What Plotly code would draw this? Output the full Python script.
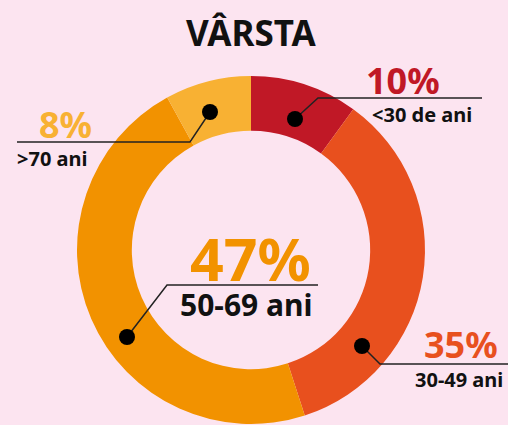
import plotly.graph_objects as go

# ---- data ----
labels = ["<30 de ani", "30-49 ani", "50-69 ani", ">70 ani"]
values = [10, 35, 47, 8]
pct_text = ["10%", "35%", "47%", "8%"]
colors = ["#C01826", "#E8501E", "#F29200", "#F8B133"]
title_text = "VÂRSTA"

W, H = 508, 425
BG = "#FCE4F0"
FONT = "Noto Sans"


def px(x):
    return x / W


def py(y):
    return 1 - y / H


fig = go.Figure(
    go.Pie(
        labels=labels,
        values=values,
        sort=False,
        direction="clockwise",
        rotation=0,
        hole=0.685,
        marker=dict(colors=colors, line=dict(width=0)),
        textinfo="none",
        hoverinfo="label+percent",
        showlegend=False,
        domain=dict(x=[px(77), px(425)], y=[py(424), py(76)]),
    )
)

# callout layout: dot, elbow, line end, pct centre, label centre, sizes, label anchor
callouts = [
    dict(dot=(295, 119), elbow=(318, 98), end=(482, 98), pct=(403, 80), lab=(422, 115), ls=20, ps=36, anchor="center"),
    dict(dot=(362, 346), elbow=(380, 364), end=(508, 364), pct=(461, 344), lab=(459, 379), ls=20, ps=36, anchor="center"),
    dict(dot=(127, 337), elbow=(167, 285), end=(318, 285), pct=(250, 258), lab=(246, 304), ls=30, ps=59, anchor="center"),
    dict(dot=(210, 112), elbow=(190, 142), end=(17, 142), pct=(65, 124), lab=(15, 158), ls=20, ps=36, anchor="left"),
]

shapes = []
annotations = [
    dict(text=f"<b>{title_text}</b>", x=px(251), y=py(33), xref="paper", yref="paper",
         showarrow=False, xanchor="center", yanchor="middle",
         font=dict(family=FONT, size=35, color="#111111"))
]

for i, c in enumerate(callouts):
    (dx, dy), (ex, ey), (fx, fy) = c["dot"], c["elbow"], c["end"]
    shapes.append(dict(type="path", xref="paper", yref="paper",
                       path=f"M {px(dx)} {py(dy)} L {px(ex)} {py(ey)} L {px(fx)} {py(fy)}",
                       line=dict(color="#222222", width=1.5)))
    r = 8
    shapes.append(dict(type="circle", xref="paper", yref="paper",
                       x0=px(dx - r), x1=px(dx + r), y0=py(dy + r), y1=py(dy - r),
                       fillcolor="#000000", line=dict(width=0)))
    annotations.append(dict(text=f"<b>{pct_text[i]}</b>", x=px(c["pct"][0]), y=py(c["pct"][1]),
                            xref="paper", yref="paper", showarrow=False,
                            xanchor="center", yanchor="middle",
                            font=dict(family=FONT, size=c["ps"], color=colors[i])))
    annotations.append(dict(text=f"<b>{labels[i]}</b>", x=px(c["lab"][0]), y=py(c["lab"][1]),
                            xref="paper", yref="paper", showarrow=False,
                            xanchor=c["anchor"], yanchor="middle",
                            font=dict(family=FONT, size=c["ls"], color="#111111")))

fig.update_layout(
    width=W, height=H,
    margin=dict(l=0, r=0, t=0, b=0),
    paper_bgcolor=BG, plot_bgcolor=BG,
    shapes=shapes,
    annotations=annotations,
)

fig.write_html(
    "out.html",
    config={"displayModeBar": False},
    post_script="document.body.style.margin='0';document.body.style.overflow='hidden';",
)
